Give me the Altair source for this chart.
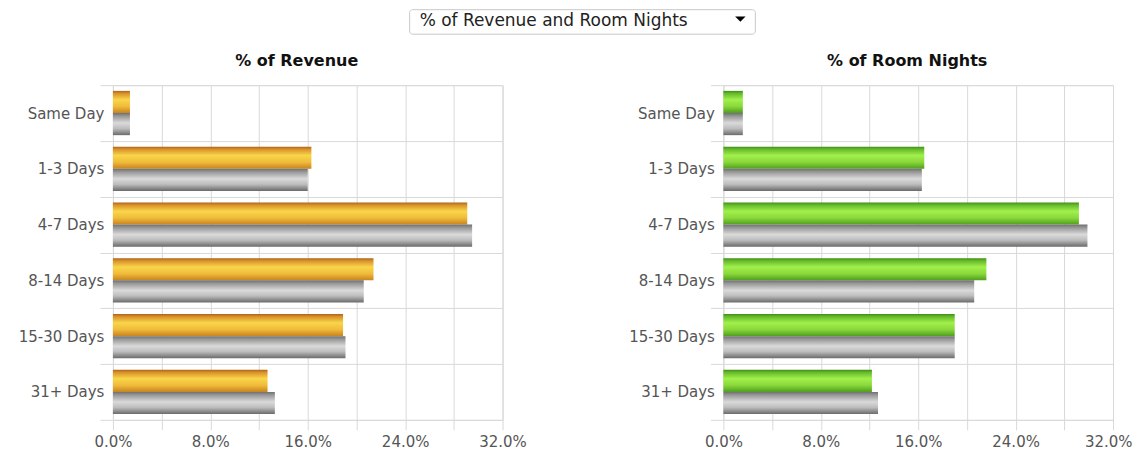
import altair as alt
import pandas as pd

# ---- data (percent values) ----
categories = ["Same Day", "1-3 Days", "4-7 Days", "8-14 Days", "15-30 Days", "31+ Days"]
revenue_current = [1.4, 16.3, 29.1, 21.4, 18.9, 12.7]
revenue_prior = [1.4, 16.0, 29.5, 20.6, 19.1, 13.3]
nights_current = [1.6, 16.5, 29.2, 21.6, 19.0, 12.2]
nights_prior = [1.6, 16.3, 29.9, 20.6, 19.0, 12.7]
x_tick_values = [0, 4, 8, 12, 16, 20, 24, 28, 32]
panel_titles = ["% of Revenue", "% of Room Nights"]
dropdown_label = ["% of Revenue and Room Nights"]

FONT = "DejaVu Sans"
GRID = "#d9d9d9"


def grad(stops):
    return alt.LinearGradient(
        gradient="linear", x1=0, x2=0, y1=0, y2=1,
        stops=[alt.GradientStop(color=c, offset=o) for o, c in stops],
    )


orange = grad([(0, "#b0621a"), (0.12, "#d9922a"), (0.4, "#f9d64a"), (0.7, "#f0bb3a"), (1, "#c8831f")])
green = grad([(0, "#3f8f15"), (0.12, "#66bb2a"), (0.4, "#a2f04c"), (0.7, "#8ad83a"), (1, "#4f9e1e")])
grey = grad([(0, "#707070"), (0.15, "#9a9a9a"), (0.45, "#dadada"), (0.7, "#bdbdbd"), (1, "#6a6a6a")])


def panel(cur, prior, title, color, flush):
    df = pd.DataFrame({
        "category": categories * 2,
        "series": ["current"] * len(categories) + ["prior"] * len(categories),
        "value": cur + prior,
    })
    flush_opts = {"labelFlush": True, "labelFlushOffset": 19} if flush else {"labelFlush": False}
    base = alt.Chart(df).encode(
        y=alt.Y(
            "category:N", sort=categories,
            scale=alt.Scale(paddingInner=0, paddingOuter=0),
            axis=alt.Axis(
                title=None, tickBand="extent", domain=False, grid=True,
                gridColor=GRID, tickColor=GRID, tickSize=13, labelPadding=-4,
                labelFont=FONT, labelFontSize=15, labelColor="#555",
            ),
        ),
        yOffset=alt.YOffset(
            "series:N",
            scale=alt.Scale(domain=["current", "prior"], paddingInner=0, paddingOuter=0.26),
        ),
        x=alt.X(
            "value:Q",
            scale=alt.Scale(domain=[0, 32], nice=False),
            axis=alt.Axis(
                title=None, values=x_tick_values, domain=False, grid=True,
                gridColor=GRID, tickColor=GRID, tickSize=10, labelPadding=5,
                labelFont=FONT, labelFontSize=15, labelColor="#555",
                labelExpr="round(datum.value) % 8 == 0 ? format(datum.value / 100, '.1%') : ''",
                **flush_opts,
            ),
        ),
    )
    cur_bar = base.transform_filter("datum.series == 'current'").mark_bar(color=color)
    prior_bar = base.transform_filter("datum.series == 'prior'").mark_bar(color=grey)
    return alt.layer(cur_bar, prior_bar).properties(
        width=390, height=335,
        title=alt.TitleParams(
            title, font=FONT, fontSize=16, fontWeight="bold", color="#111",
            anchor="middle", frame="group", offset=9, dx=-11,
        ),
    )


left = panel(revenue_current, revenue_prior, panel_titles[0], orange, False)
right = panel(nights_current, nights_prior, panel_titles[1], green, True)

# ---- dropdown-looking header ----
BOX_L = 297
BOX_W = 346
BOX_H = 25
dd = alt.Chart(pd.DataFrame({"label": dropdown_label}))
box = dd.mark_rect(fill="white", stroke="#c8c8c8", strokeWidth=1, cornerRadius=3).encode(
    x=alt.value(BOX_L), x2=alt.value(BOX_L + BOX_W), y=alt.value(0.5), y2=alt.value(BOX_H)
)
txt = dd.mark_text(align="left", baseline="middle", font=FONT, fontSize=17, color="#222").encode(
    x=alt.value(BOX_L + 10), y=alt.value(11.5), text="label:N"
)
tri = dd.mark_point(shape="M-1,-0.5L1,-0.5L0,0.5Z", filled=True, color="black", size=110, opacity=1).encode(
    x=alt.value(BOX_L + 331), y=alt.value(10)
)
header = alt.layer(box, txt, tri).properties(
    width=660, height=BOX_H, view=alt.ViewConfig(stroke="transparent")
)

panels = alt.hconcat(left, right, spacing=221, bounds="flush")

chart = alt.vconcat(header, panels, spacing=17).properties(
    padding={"left": 9, "top": 0, "right": 0, "bottom": 0}
).configure_view(stroke=GRID)

chart.save("out.html", embed_options={"renderer": "svg", "actions": False})
